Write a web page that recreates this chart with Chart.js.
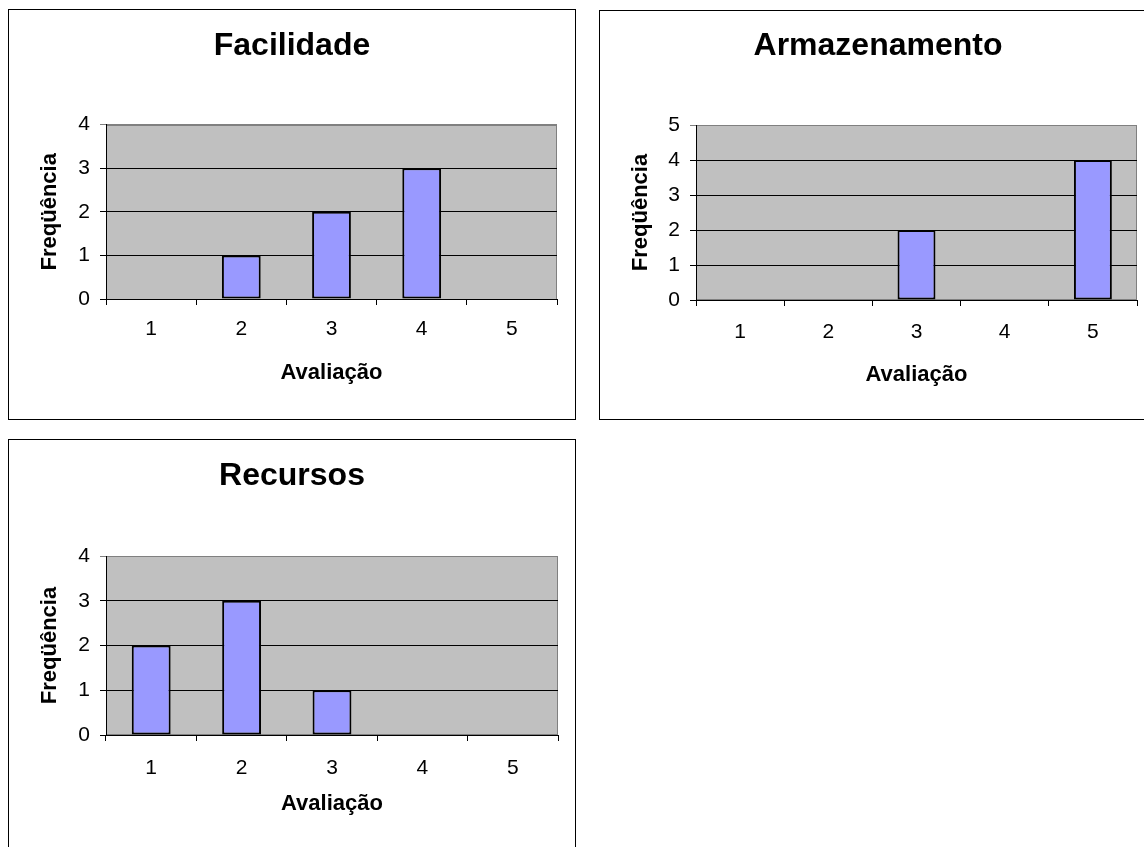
<!DOCTYPE html>
<html lang="pt-BR">
<head>
<meta charset="UTF-8">
<title>Avaliações</title>
<script src="https://cdn.jsdelivr.net/npm/chart.js@4.4.1/dist/chart.umd.min.js"></script>
<style>
    html, body { margin: 0; padding: 0; background: #fff; overflow: hidden; }
    .box { position: absolute; border: 1px solid #000; background: #fff; }
    .box canvas { display: block; }
</style>
</head>
<body>
<div class="box" style="left:8px;top:9px;"><canvas id="c1" width="566" height="409"></canvas></div>
<div class="box" style="left:599px;top:10px;"><canvas id="c2" width="556" height="408"></canvas></div>
<div class="box" style="left:8px;top:439px;"><canvas id="c3" width="566" height="409"></canvas></div>
<script>
// dados
const avaliacoes = ['1', '2', '3', '4', '5'];
const facilidade = [0, 1, 2, 3, 0];
const armazenamento = [0, 0, 2, 0, 4];
const recursos = [2, 3, 1, 0, 0];
const maxFacilidade = 4;
const maxArmazenamento = 5;
const maxRecursos = 4;

const FONTE = "'Liberation Sans', Arial, sans-serif";

// fundo cinza da área de plotagem
const fundoPlot = {
    id: 'fundoPlot',
    beforeDraw(chart) {
        const a = chart.chartArea;
        const ctx = chart.ctx;
        ctx.save();
        ctx.fillStyle = '#C0C0C0';
        ctx.fillRect(a.left, a.top, a.right - a.left, a.bottom - a.top);
        ctx.strokeStyle = '#808080';
        ctx.lineWidth = 1;
        ctx.strokeRect(Math.round(a.left) + 0.5, Math.round(a.top) + 0.5,
            Math.round(a.right - a.left) - 1, Math.round(a.bottom - a.top) - 1);
        ctx.restore();
    }
};

function criarGrafico(id, titulo, valores, yMax, g) {
    const canvas = document.getElementById(id);
    const W = canvas.width, H = canvas.height;
    const lhTitulo = 32 * 1.2, lhEixo = 22 * 1.2, lhTick = 21 * 1.2;
    const tam = 6;
    const alturaX = g.xTitleY - g.bottom + lhEixo / 2;
    const padTopo = g.titleY - lhTitulo / 2;

    new Chart(canvas, {
        type: 'bar',
        data: {
            labels: avaliacoes,
            datasets: [{
                data: valores,
                xAxisID: 'x',
                yAxisID: 'y',
                backgroundColor: '#9999FF',
                borderColor: '#000',
                borderWidth: 2,
                borderSkipped: false,
                barPercentage: 0.43,
                categoryPercentage: 1
            }]
        },
        options: {
            responsive: false,
            animation: false,
            events: [],
            layout: { padding: { left: 0, top: 0, right: 0, bottom: H - g.bottom - alturaX } },
            plugins: {
                legend: { display: false },
                tooltip: { enabled: false },
                title: {
                    display: true,
                    text: titulo,
                    color: '#000',
                    font: { family: FONTE, size: 32, weight: 'bold' },
                    padding: { top: padTopo, bottom: g.top - padTopo - lhTitulo }
                }
            },
            scales: {
                x: {
                    grid: { display: true, drawOnChartArea: false, drawTicks: true, tickLength: tam, color: '#000', offset: true },
                    border: { display: true, color: '#000', width: 1 },
                    ticks: {
                        color: '#000',
                        font: { family: FONTE, size: 21 },
                        padding: g.xLabelY - g.bottom - tam - lhTick / 2
                    },
                    title: {
                        display: true,
                        text: 'Avaliação',
                        color: '#000',
                        font: { family: FONTE, size: 22, weight: 'bold' },
                        padding: { top: 0, bottom: 0 }
                    },
                    afterFit: s => { s.height = alturaX; }
                },
                y: {
                    min: 0,
                    max: yMax,
                    grid: {
                        color: c => (c.tick && c.tick.value === yMax) ? '#808080' : '#000',
                        tickLength: tam
                    },
                    border: { display: true, color: '#000', width: 1 },
                    ticks: {
                        stepSize: 1,
                        color: '#000',
                        padding: 10,
                        font: { family: FONTE, size: 21 }
                    },
                    title: {
                        display: true,
                        text: 'Freqüência',
                        color: '#000',
                        font: { family: FONTE, size: 22, weight: 'bold' },
                        padding: { top: g.yTitleX - lhEixo / 2, bottom: 0 }
                    },
                    afterFit: s => { s.width = g.left; }
                },
                margemDir: {
                    type: 'linear',
                    position: 'right',
                    display: true,
                    grid: { display: false },
                    border: { display: false },
                    ticks: { display: false },
                    afterFit: s => { s.width = W - g.right; }
                }
            }
        },
        plugins: [fundoPlot]
    });
}

criarGrafico('c1', 'Facilidade', facilidade, maxFacilidade,
    { left: 97, right: 548, top: 114.5, bottom: 289, titleY: 36, xLabelY: 319, xTitleY: 363, yTitleX: 40.5 });
criarGrafico('c2', 'Armazenamento', armazenamento, maxArmazenamento,
    { left: 96, right: 537, top: 114, bottom: 289, titleY: 35, xLabelY: 321, xTitleY: 364, yTitleX: 40.5 });
criarGrafico('c3', 'Recursos', recursos, maxRecursos,
    { left: 97, right: 549, top: 116, bottom: 295, titleY: 36, xLabelY: 328, xTitleY: 364, yTitleX: 40.5 });
</script>
</body>
</html>
